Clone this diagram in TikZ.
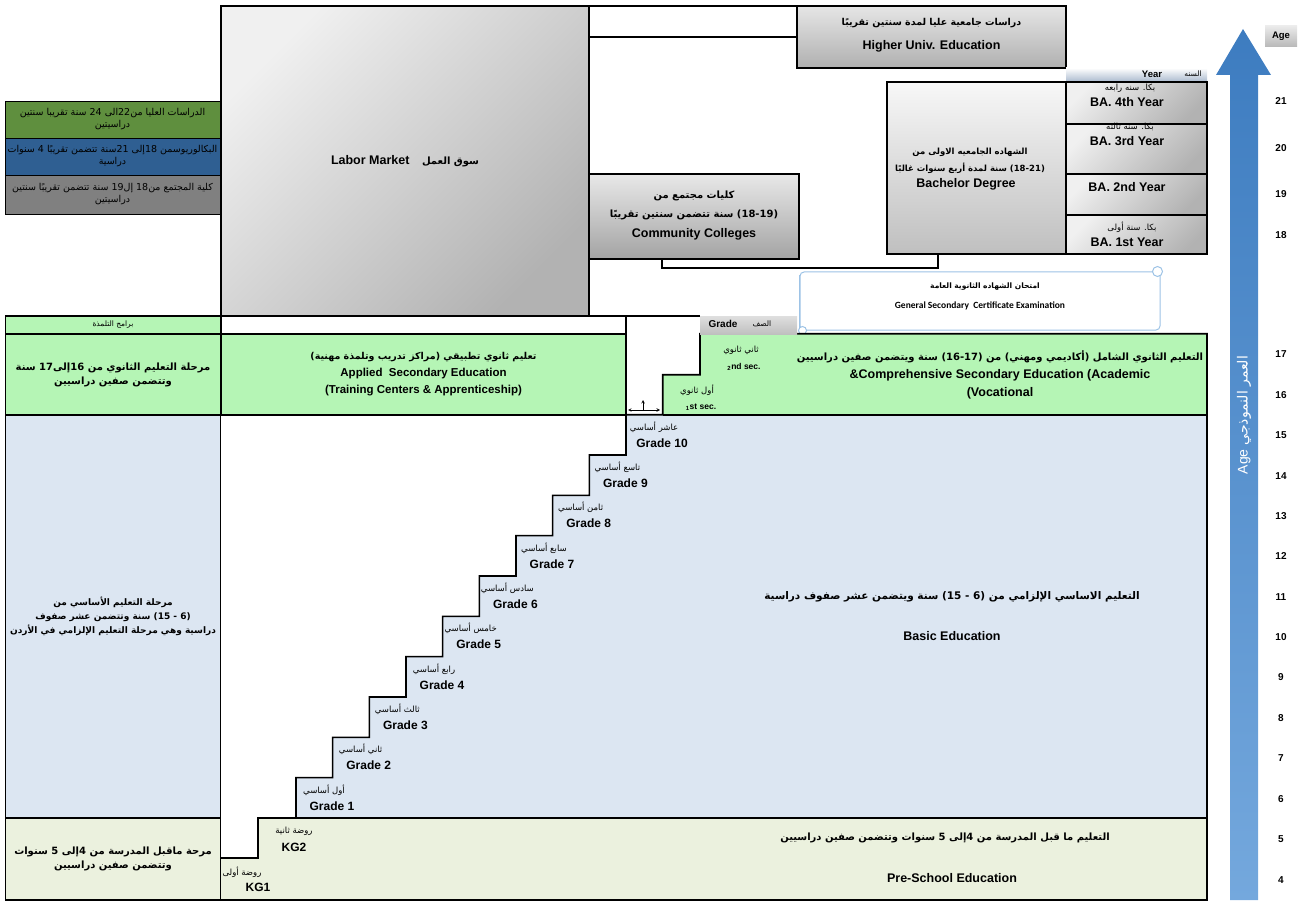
\documentclass[tikz,border=0pt]{standalone}
\usepackage{fontspec}
\setmainfont{Liberation Sans}
\newfontfamily\arabicfont[Script=Arabic]{DejaVu Sans}
\newfontfamily\calfont{Carlito}
\TeXXeTstate=1
\usetikzlibrary{positioning,calc}

\definecolor{secgreen}{HTML}{B5F5B5}
\definecolor{basicblue}{HTML}{DCE6F2}
\definecolor{pregreen}{HTML}{EBF1DE}
\definecolor{postgreen}{HTML}{5F8F3E}
\definecolor{bablue}{HTML}{2F5F92}
\definecolor{ccgrey}{HTML}{808080}
\definecolor{scrollblue}{HTML}{9DC3E6}
\definecolor{arrowtop}{HTML}{3D7CC0}
\definecolor{arrowbot}{HTML}{74A8DD}
\definecolor{yearbar}{HTML}{A9B9CE}

\newcommand{\artxt}[1]{{\arabicfont\beginR #1\endR}}
\newcommand{\ltrpart}[1]{\hbox{#1}}

\begin{document}
\begin{tikzpicture}[x=1pt, y=-1pt,
    blackline/.style={draw, line width=1.6pt},
    boxsty/.style={blackline, inner sep=0pt, outer sep=0pt, align=center},
    greybox/.style={boxsty, top color=gray!12, bottom color=gray!60, shading angle=45},
    colbox/.style={boxsty, minimum width=215pt},
    topbox/.style={draw, line width=0.8pt, inner sep=0pt, minimum width=215pt, align=center, font=\fontsize{9.5}{12}\selectfont},
    entxt/.style={font=\bfseries\fontsize{12.5}{15}\selectfont, align=center, inner sep=0pt},
    artext/.style={font=\bfseries\fontsize{9.5}{12}\selectfont, align=center, inner sep=0pt},
    coltxt/.style={font=\bfseries\fontsize{9}{14}\selectfont, align=center, inner sep=0pt},
    stepar/.style={font=\fontsize{8.5}{10}\selectfont, inner sep=0pt},
    stepen/.style={font=\bfseries\fontsize{12}{14}\selectfont, inner sep=0pt},
    agenum/.style={font=\bfseries\fontsize{10}{12}\selectfont, inner sep=0pt}
]
\useasboundingbox (0,0) rectangle (1303,901);

% Upper part
\node[greybox, entxt, minimum width=368pt, minimum height=310pt] (labor) at (405,161) {Labor Market\quad{\fontsize{10}{12}\selectfont\artxt{سوق العمل}}};
\node[greybox, top color=gray!20, bottom color=gray!62, minimum width=269pt, minimum height=62pt] (higher) at (931.5,37) {};
\node[artext] at (931.5,23) {\artxt{دراسات جامعية عليا لمدة سنتين تقريبًا}};
\node[entxt] at (931.5,46) {Higher Univ. Education};
\draw[blackline] (labor.north east) -- (higher.north west);
\draw[blackline] (labor.east |- higher.west) -- (higher.west);

\node[greybox, top color=gray!18, bottom color=gray!72, minimum width=210pt, minimum height=85pt] (community) at (694,216.5) {};
\node[artext, font=\bfseries\fontsize{10}{12}\selectfont] at (694,196) {\artxt{كليات مجتمع من}};
\node[artext, font=\bfseries\fontsize{10}{12}\selectfont] at (694,215) {\artxt{(18-19) سنة تتضمن سنتين تقريبًا}};
\node[entxt] at (694,234) {Community Colleges};

\node[greybox, top color=gray!6, bottom color=gray!50, minimum width=179pt, minimum height=172pt] (bachelor) at (976.5,168) {};
\node[artext, font=\bfseries\fontsize{8.5}{11}\selectfont] at (970,152) {\artxt{الشهاده الجامعيه الاولى من}};
\node[artext, font=\bfseries\fontsize{8.5}{11}\selectfont] at (970,168) {\artxt{(18-21) سنة لمدة أربع سنوات غالبًا}};
\node[entxt] at (966,184) {Bachelor Degree};

\node[inner sep=0pt, top color=white, bottom color=yearbar, minimum width=141pt, minimum height=14pt] (yearhdr) at (1136.5,75) {};
\node[font=\bfseries\fontsize{9.5}{10}\selectfont, inner sep=0pt] at (1152,74) {Year};
\node[font=\fontsize{7.5}{9}\selectfont, inner sep=0pt] at (1193,74) {\artxt{السنه}};

\node[greybox, minimum width=141pt, minimum height=42pt] (ba4) at (1136.5,103) {};
\node[greybox, minimum width=141pt, minimum height=50pt] (ba3) at (1136.5,149) {};
\node[greybox, minimum width=141pt, minimum height=41pt] (ba2) at (1136.5,194.5) {};
\node[greybox, minimum width=141pt, minimum height=39pt] (ba1) at (1136.5,234.5) {};
\node[stepar] at (1130,88) {\artxt{بكا. سنه رابعه}};
\node[entxt] at (1127,102) {BA. 4th Year};
\node[stepar] at (1130,127) {\artxt{بكا. سنه ثالثه}};
\node[entxt] at (1127,141) {BA. 3rd Year};
\node[entxt] at (1127,187) {BA. 2nd Year};
\node[stepar] at (1132,227) {\artxt{بكا. سنة أولى}};
\node[entxt] at (1127,242) {BA. 1st Year};

% community colleges to bachelor
\draw[blackline, line width=1.2pt] ($(community.south)+(-32,0)$) |- ($(bachelor.south)+(-38.5,14)$) -- ($(bachelor.south)+(-38.5,0)$);

% exam scroll
\node[draw=scrollblue, line width=1pt, rounded corners=4pt, fill=white, minimum width=360pt, minimum height=58pt, inner sep=0pt] (exam) at (980,301) {};
\draw[scrollblue, line width=1pt, fill=white] (exam.north east) ++(-3,0) circle (5);
\draw[scrollblue, line width=1pt, fill=white] (exam.south west) ++(3,0) circle (4);
\draw[scrollblue, line width=1pt] (exam.north west) ++(0,4) -- ++(0,52);
\node[artext, font=\bfseries\fontsize{7.5}{9}\selectfont] at (985,287) {\artxt{امتحان الشهاده الثانوية العامة}};
\node[font=\calfont\bfseries\fontsize{9.5}{11}\selectfont, inner sep=0pt] at (980,306) {General Secondary\ \ Certificate Examination};

% left column, post-secondary
\node[topbox, fill=postgreen, minimum height=37pt] (postlbl) at (112.5,119.5) {\artxt{الدراسات العليا من22الى 24 سنة تقريبا سنتين}\\\artxt{دراسيتين}};
\node[topbox, fill=bablue, minimum height=37pt] (balbl) at (112.5,156.5) {\artxt{البكالوريوسمن 18إلى 21سنة تتضمن تقريبًا 4 سنوات}\\\artxt{دراسية}};
\node[topbox, fill=ccgrey, minimum height=39pt] (cclbl) at (112.5,194.5) {\artxt{كلية المجتمع من18 إل19 سنة تتضمن تقريبًا سنتين}\\\artxt{دراسيتين}};

% lower part fills
\fill[pregreen] (221,900) -- (221,858) -- (258,858) -- (258,818) -- (1207,818) -- (1207,900) -- cycle;
\fill[basicblue] (296,818) \foreach \k in {1,...,10} { -- ++(0,-40.33) -- ++(36.67,0) } -- (1207,414.7) -- (1207,818) -- cycle;
\fill[secgreen] (662.7,414.7) -- ++(0,-40) -- ++(37.3,0) -- ++(0,-41) -- (1207,333.7) -- (1207,414.7) -- cycle;

% staircase
\draw[blackline] (221,858) -- (258,858) -- (258,818) -- (296,818) \foreach \k in {1,...,10} { -- ++(0,-40.33) -- ++(36.67,0) } -- ++(0,-40) -- ++(37.3,0) -- ++(0,-41) -- (1207,333.7) -- (1207,900) -- (5,900);
\draw[blackline] (296,818) -- (1207,818);
\draw[blackline] (662.7,414.7) -- (1207,414.7);

% left column boxes
\node[colbox, fill=secgreen, minimum height=18pt, font=\fontsize{7.5}{9}\selectfont] (apprlbl) at (113,325) {\artxt{برامج التلمذة}};
\node[colbox, coltxt, font=\bfseries\fontsize{10}{14}\selectfont, fill=secgreen, minimum height=81pt] (seclbl) at (113,374.5) {\artxt{مرحلة التعليم الثانوي من 16إلى17 سنة}\\\artxt{وتتضمن صفين دراسيين}};
\node[colbox, coltxt, fill=basicblue, minimum height=403pt] (basiclbl) at (113,616.5) {\artxt{مرحلة التعليم الأساسي من}\\\artxt{\ltrpart{(6 - 15)} سنة وتتضمن عشر صفوف}\\\artxt{دراسية وهي مرحلة التعليم الإلزامي في الأردن}};
\node[colbox, coltxt, font=\bfseries\fontsize{10}{14}\selectfont, fill=pregreen, minimum height=82pt] (prelbl) at (113,859) {\artxt{مرحة ماقبل المدرسة من 4إلى 5 سنوات}\\\artxt{وتتضمن صفين دراسيين}};

% applied secondary
\node[boxsty, fill=white, minimum width=405pt, minimum height=18pt] (apprtop) at (423.5,325) {};
\node[boxsty, fill=secgreen, minimum width=405pt, minimum height=81pt] (applied) at (423.5,374.5) {};
\node[artext] at (423.5,357) {\artxt{تعليم ثانوي تطبيقي (مراكز تدريب وتلمذة مهنية)}};
\node[entxt, font=\bfseries\fontsize{11.5}{14}\selectfont] at (423.5,374) {Applied\ \ Secondary Education};
\node[entxt, font=\bfseries\fontsize{11.5}{14}\selectfont] at (423.5,391) {(Training Centers \& Apprenticeship)};
\draw[blackline] (apprtop.north east) -- (700,316);
\draw[line width=0.6pt, <->, >=stealth] (628,410) -- (660,410);
\draw[line width=0.6pt, ->, >=stealth] (643,410) -- (643,400);

% grade header
\node[boxsty, draw=none, top color=gray!25, bottom color=gray!50, minimum width=97pt, minimum height=18pt] (gradehdr) at (748.5,325) {};
\node[font=\bfseries\fontsize{10}{12}\selectfont, inner sep=0pt] at (723,324) {Grade};
\node[font=\fontsize{7.5}{9}\selectfont, inner sep=0pt] at (762,324) {\artxt{الصف}};

% secondary steps
\node[stepar] (sec1ar) at (697,390) {\artxt{أول ثانوي}};
\node[font=\bfseries\fontsize{8.5}{10}\selectfont, inner sep=0pt] (sec1en) at (701,407) {\textsubscript{1}st sec.};
\node[stepar] (sec2ar) at (741,350) {\artxt{ثاني ثانوي}};
\node[font=\bfseries\fontsize{8.5}{10}\selectfont, inner sep=0pt] (sec2en) at (744,367) {\textsubscript{2}nd sec.};
\node[artext, font=\bfseries\fontsize{10}{12}\selectfont] at (1000,357) {\artxt{التعليم الثانوي الشامل (أكاديمي ومهني) من  (16-17) سنة ويتضمن صفين دراسيين}};
\node[entxt] at (1000,375) {\&Comprehensive Secondary Education (Academic};
\node[entxt] at (1000,393) {(Vocational};

% basic education steps
\foreach \g/\arname in {1/أول,2/ثاني,3/ثالث,4/رابع,5/خامس,6/سادس,7/سابع,8/ثامن,9/تاسع,10/عاشر} {
  \pgfmathsetmacro\sx{296+(\g-1)*36.67}
  \pgfmathsetmacro\sy{778-(\g-1)*40.33}
  \node[stepar] (grar\g) at (\sx+28,\sy+12) {\artxt{\arname{} أساسي}};
  \node[stepen] (gren\g) at (\sx+36,\sy+28) {Grade \g};
}
\node[artext, font=\bfseries\fontsize{10.5}{12}\selectfont] at (952,597) {\artxt{التعليم الاساسي الإلزامي من \ltrpart{(6 - 15)} سنة ويتضمن عشر صفوف  دراسية}};
\node[entxt] at (952,636) {Basic Education};

% pre-school
\node[stepar] (kg1ar) at (242,872) {\artxt{روضة أولى}};
\node[stepen] (kg1en) at (258,887) {KG1};
\node[stepar] (kg2ar) at (294,831) {\artxt{روضة ثانية}};
\node[stepen] (kg2en) at (294,847) {KG2};
\node[artext, font=\bfseries\fontsize{10}{12}\selectfont] at (945,838) {\artxt{التعليم ما قبل المدرسة من 4إلى 5 سنوات وتتضمن صفين دراسيين}};
\node[entxt] at (952,878) {Pre-School Education};

% age scale
\shade[top color=arrowtop, bottom color=arrowbot] (1230,900) -- (1230,75) -- (1216,75) -- (1243,29) -- (1271,75) -- (1258,75) -- (1258,900) -- cycle;
\node[rotate=90, text=white, font=\fontsize{14}{16}\selectfont, inner sep=0pt] (agelbl) at (1244,415) {Age \artxt{العمر النموذجي}};
\node[inner sep=0pt, top color=gray!15, bottom color=gray!55, minimum width=32pt, minimum height=21pt, font=\bfseries\fontsize{9.5}{11}\selectfont] (agehdr) at (1281,36) {Age};
\foreach \a/\ay in {21/101,20/148,19/194,18/235,17/354,16/395,15/435,14/476,13/516,12/556,11/597,10/637,9/677,8/718,7/758,6/799,5/839,4/880}
  \node[agenum] (age\a) at (1281,\ay) {\a};
\end{tikzpicture}
\end{document}
